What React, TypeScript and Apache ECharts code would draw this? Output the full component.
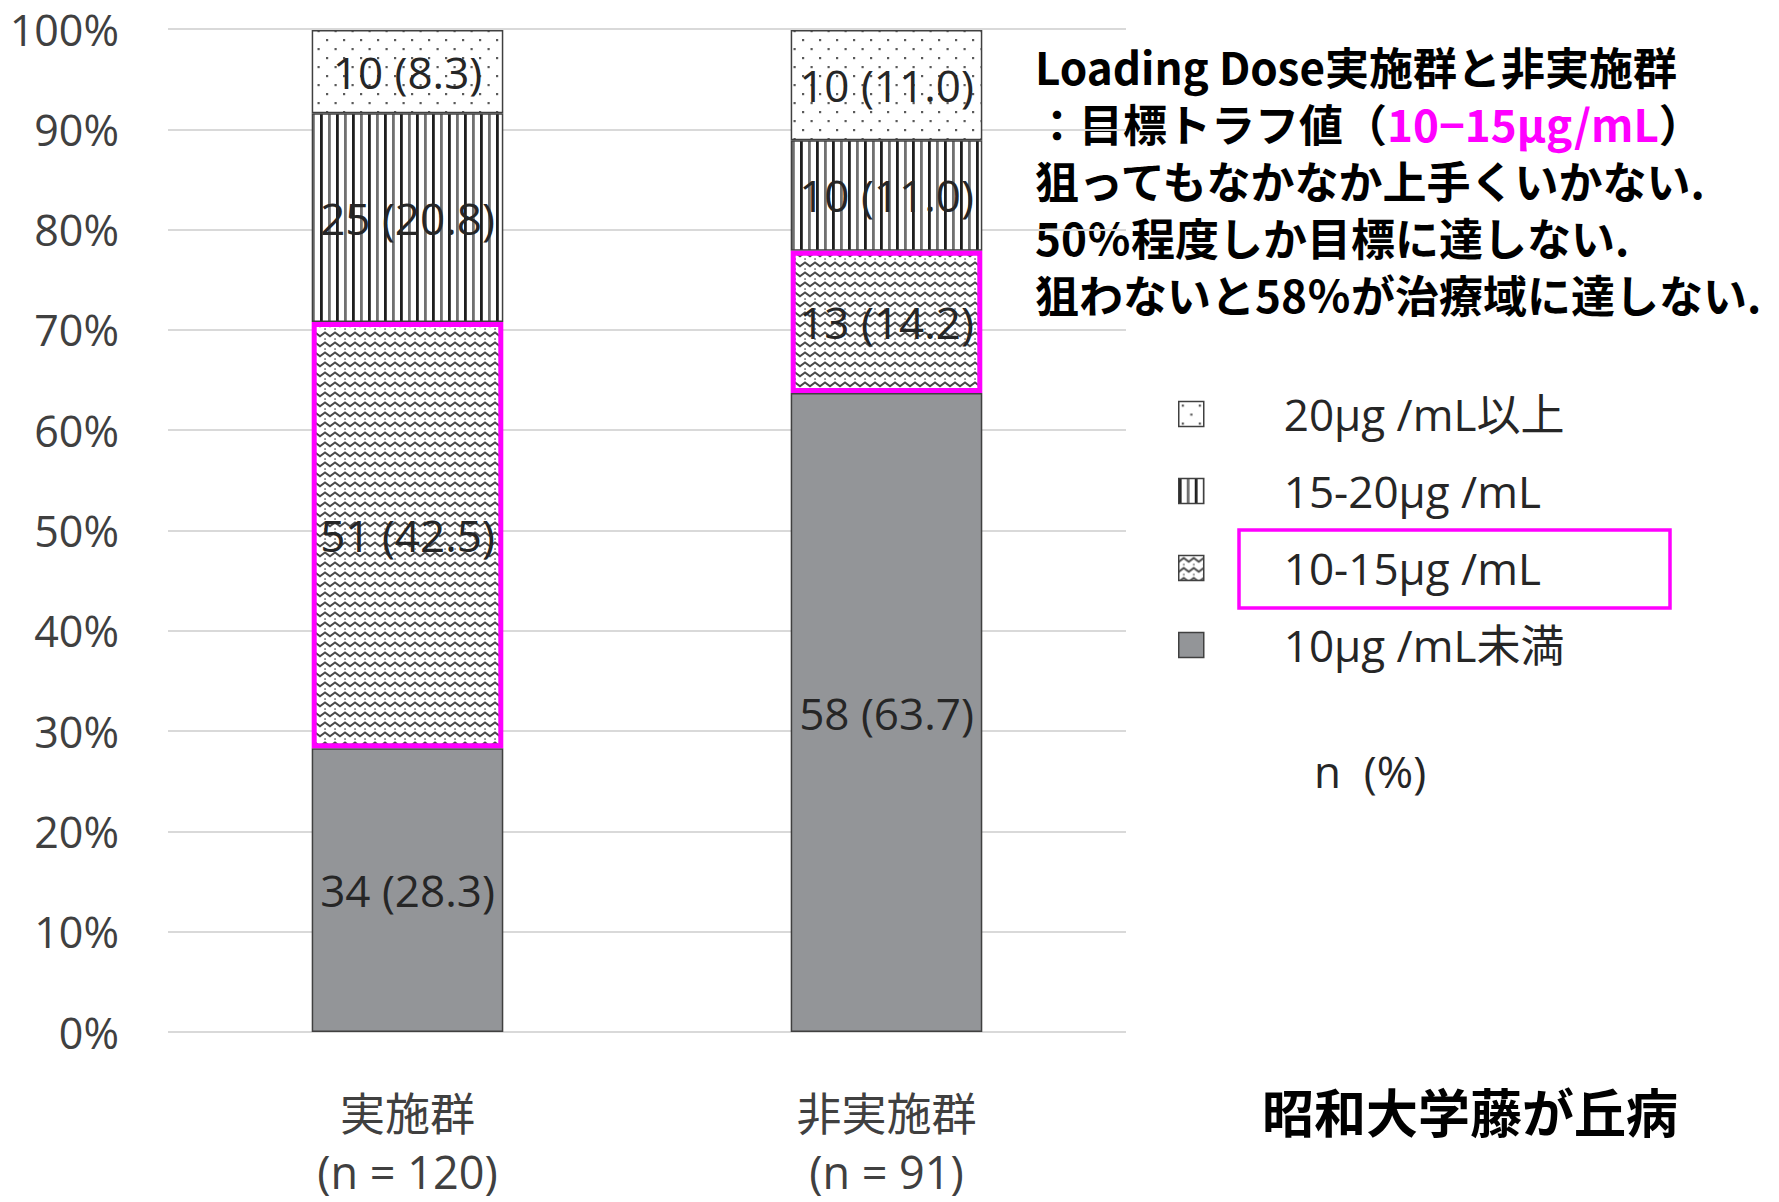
import React, { useEffect, useRef } from 'react';
import * as echarts from 'echarts';

// ---- data ----
const groups = ['実施群', '非実施群'];
const groupN = [120, 91];
const seriesNames = ['10μg /mL未満', '10-15μg /mL', '15-20μg /mL', '20μg /mL以上'];
const countsBelow10 = [34, 58];
const pctBelow10 = [28.3, 63.7];
const counts10to15 = [51, 13];
const pct10to15 = [42.5, 14.2];
const counts15to20 = [25, 10];
const pct15to20 = [20.8, 11.0];
const countsAbove20 = [10, 10];
const pctAbove20 = [8.3, 11.0];
const legendOrder = [3, 2, 1, 0];
const titleLine1 = 'Loading Dose実施群と非実施群';
const titleLine2a = '：目標トラフ値（';
const titleLine2b = '10−15μg/mL';
const titleLine2c = '）';
const titleLine3 = '狙ってもなかなか上手くいかない.';
const titleLine4 = '50％程度しか目標に達しない.';
const titleLine5 = '狙わないと58％が治療域に達しない.';
const unitNote = 'n  (%)';
const footer = '昭和大学藤が丘病';

const FONT = '"Open Sans", "Noto Sans CJK JP", sans-serif';
const JP = '"Noto Sans CJK JP", sans-serif';
const MAGENTA = '#FF00FF';

function makeTile(w: number, h: number, draw: (ctx: CanvasRenderingContext2D) => void) {
  const c = document.createElement('canvas');
  c.width = w;
  c.height = h;
  const ctx = c.getContext('2d') as CanvasRenderingContext2D;
  ctx.fillStyle = '#ffffff';
  ctx.fillRect(0, 0, w, h);
  draw(ctx);
  return { image: c, repeat: 'repeat', imageWidth: w, imageHeight: h } as any;
}

export default function App() {
  const ref = useRef<HTMLDivElement>(null);
  useEffect(() => {
    if (!ref.current) return;
    const chart = echarts.init(ref.current, null, { renderer: 'svg' });

    const dots = makeTile(17, 18, (ctx) => {
      ctx.fillStyle = '#5a5a5a';
      ctx.fillRect(3, 3, 2.2, 2.2);
      ctx.fillRect(11.5, 12, 2.2, 2.2);
    });
    const stripes = makeTile(16, 10, (ctx) => {
      ctx.fillStyle = '#1e1e1e';
      ctx.fillRect(0, 0, 2.8, 10);
      ctx.fillStyle = '#707070';
      ctx.fillRect(8, 0, 2.8, 10);
    });
    const zigzag = makeTile(10, 10, (ctx) => {
      ctx.strokeStyle = '#4a4a4a';
      ctx.lineWidth = 2;
      ctx.beginPath();
      ctx.moveTo(-1, 7);
      ctx.lineTo(5, 2.5);
      ctx.lineTo(11, 7);
      ctx.stroke();
      ctx.fillStyle = '#555555';
      ctx.fillRect(4.3, 8.3, 1.5, 1.5);
    });

    const pcts = [pctBelow10, pct10to15, pct15to20, pctAbove20];
    const counts = [countsBelow10, counts10to15, counts15to20, countsAbove20];
    const fills: any[] = ['#939598', zigzag, stripes, dots];

    const series = seriesNames.map((name, s) => ({
      name,
      type: 'bar',
      stack: 'total',
      barCategoryGap: '60%',
      z: s === 1 ? 4 : 2,
      data: pcts[s],
      itemStyle: {
        color: fills[s],
        borderColor: s === 1 ? MAGENTA : '#404040',
        borderWidth: s === 1 ? 5 : 1.5,
      },
      label: {
        show: true,
        position: 'inside',
        fontSize: 44,
        fontFamily: FONT,
        color: '#262626',
        formatter: (p: any) => `${counts[s][p.dataIndex]} (${pcts[s][p.dataIndex].toFixed(1)})`,
      },
      emphasis: { disabled: true },
    }));

    const richA = { fontSize: 44, fontWeight: 'bold', fontFamily: JP, fill: '#000000', lineHeight: 57 };
    const richB = { fontSize: 44, fontWeight: 'bold', fontFamily: JP, fill: MAGENTA, lineHeight: 57 };
    const titleText = [
      `{a|${titleLine1}}`,
      `{a|${titleLine2a}}{b|${titleLine2b}}{a|${titleLine2c}}`,
      `{a|${titleLine3}}`,
      `{a|${titleLine4}}`,
      `{a|${titleLine5}}`,
    ].join('\n');

    chart.setOption({
      animation: false,
      backgroundColor: '#ffffff',
      grid: {
        left: 168,
        right: 653,
        top: 29,
        bottom: 170,
        containLabel: false,
        outerBoundsMode: 'none',
      },
      xAxis: {
        type: 'category',
        data: groups.map((g, i) => `${g}\n(n = ${groupN[i]})`),
        axisLine: { show: false },
        axisTick: { show: false },
        axisLabel: {
          margin: 52,
          fontSize: 45,
          lineHeight: 58,
          fontFamily: FONT,
          color: '#404040',
        },
      },
      yAxis: {
        type: 'value',
        min: 0,
        max: 100,
        interval: 10,
        axisLine: { show: false },
        axisTick: { show: false },
        splitLine: { lineStyle: { color: '#d9d9d9', width: 2 } },
        axisLabel: {
          margin: 49,
          fontSize: 43,
          fontFamily: FONT,
          color: '#404040',
          formatter: '{value}%',
        },
      },
      legend: {
        orient: 'vertical',
        left: 1178,
        top: 389,
        padding: 0,
        itemWidth: 25,
        itemHeight: 25,
        itemGap: 27,
        icon: 'rect',
        selectedMode: false,
        data: legendOrder.map((i) => ({
          name: seriesNames[i],
          itemStyle: { borderColor: '#404040', borderWidth: 1.5 },
        })),
        textStyle: {
          fontSize: 44,
          lineHeight: 50,
          fontFamily: FONT,
          color: '#262626',
          padding: [0, 0, 0, 75],
        },
      },
      graphic: [
        {
          type: 'text',
          x: 1035,
          y: 37,
          style: {
            text: titleText,
            verticalAlign: 'top',
            fill: '#000000',
            rich: { a: richA, b: richB },
          },
        },
        {
          type: 'rect',
          shape: { x: 1239, y: 530, width: 431, height: 78 },
          style: { fill: 'none', stroke: MAGENTA, lineWidth: 3.5 },
        },
        {
          type: 'text',
          x: 1314,
          y: 771,
          style: { text: unitNote, fontSize: 44, fontFamily: FONT, fill: '#262626', verticalAlign: 'middle' },
        },
        {
          type: 'text',
          x: 1262,
          y: 1110,
          style: { text: footer, fontSize: 52, fontWeight: 'bold', fontFamily: JP, fill: '#000000', verticalAlign: 'middle' },
        },
      ],
      series,
    } as any);

    return () => chart.dispose();
  }, []);

  return (
    <div
      ref={ref}
      style={{ position: 'absolute', left: 0, top: 0, width: 1779, height: 1202, background: '#fff' }}
    />
  );
}
